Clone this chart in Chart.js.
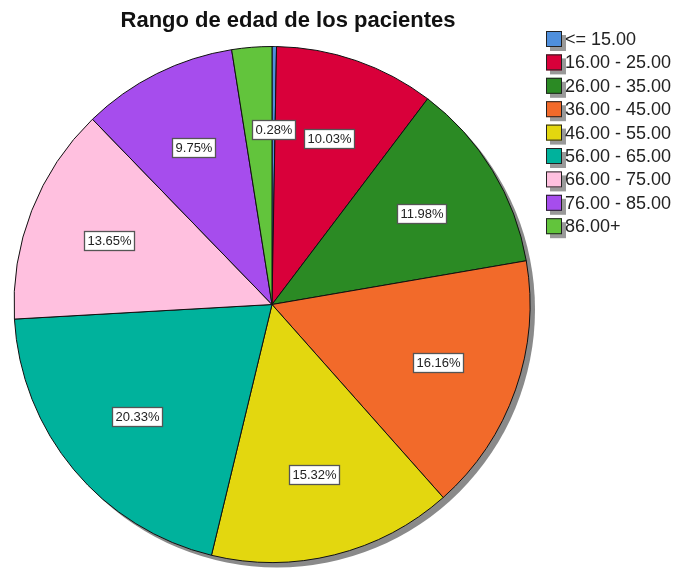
<!DOCTYPE html>
<html>
<head>
<meta charset="utf-8">
<script src="https://cdn.jsdelivr.net/npm/chart.js@4.4.1/dist/chart.umd.min.js"></script>
<style>
  html, body { margin: 0; padding: 0; background: #fff; }
  #wrap { width: 677px; height: 569px; position: relative; }
</style>
</head>
<body>
<div id="wrap"><canvas id="pie"></canvas></div>
<script>
// Age-range pie, SPSS style: percentage boxes, drop shadow, legend on the right.

const TITLE = "Rango de edad de los pacientes";
const categories = ["<= 15.00", "16.00 - 25.00", "26.00 - 35.00", "36.00 - 45.00", "46.00 - 55.00",
                    "56.00 - 65.00", "66.00 - 75.00", "76.00 - 85.00", "86.00+"];
const percents = [0.28, 10.03, 11.98, 16.16, 15.32, 20.33, 13.65, 9.75, 2.50];
// the 86+ slice has no label box in the original
const shownLabels = ["0.28%", "10.03%", "11.98%", "16.16%", "15.32%", "20.33%", "13.65%", "9.75%", null];
const colors = ["#4f8fdc", "#d9003a", "#2b8a24", "#f26a2a", "#e3d70f", "#00b29c", "#ffc0df", "#a64ded", "#62c43c"];

const font = "Arial, 'Liberation Sans', sans-serif";

const shadowPlugin = {
  id: "shadow",
  beforeDatasetsDraw(chart) {
    const arc = chart.getDatasetMeta(0).data[0];
    if (!arc) return;
    const { ctx } = chart;
    ctx.save();
    ctx.fillStyle = "#8a8a8a";
    ctx.beginPath();
    ctx.arc(arc.x + 5, arc.y + 5, arc.outerRadius, 0, Math.PI * 2);
    ctx.fill();
    ctx.restore();
  },
};

const decorPlugin = {
  id: "decor",
  afterDraw(chart) {
    const { ctx } = chart;
    ctx.save();

    // title
    ctx.fillStyle = "#111";
    ctx.font = `bold 22px ${font}`;
    ctx.textAlign = "center";
    ctx.textBaseline = "middle";
    ctx.fillText(TITLE, 288, 21);

    // percentage boxes
    ctx.font = `13px ${font}`;
    const meta = chart.getDatasetMeta(0);
    meta.data.forEach((arc, i) => {
      const text = shownLabels[i];
      if (!text) return;
      const mid = (arc.startAngle + arc.endAngle) / 2;
      const r = arc.outerRadius * 0.68;
      const x = arc.x + Math.cos(mid) * r;
      const y = arc.y + Math.sin(mid) * r;
      const w = Math.round(ctx.measureText(text).width + 6);
      const h = 19;
      const left = Math.round(x - w / 2), top = Math.round(y - h / 2);
      ctx.fillStyle = "#fff";
      ctx.fillRect(left, top, w, h);
      ctx.strokeStyle = "#555";
      ctx.lineWidth = 1.3;
      ctx.strokeRect(left + 0.5, top + 0.5, w, h);
      ctx.fillStyle = "#222";
      ctx.fillText(text, left + w / 2 + 0.5, top + h / 2 + 1);
    });

    // legend
    ctx.font = `18px ${font}`;
    ctx.textAlign = "left";
    categories.forEach((name, i) => {
      const bx = 546, by = 31 + i * 23.4, s = 16;
      ctx.fillStyle = "#999";
      ctx.fillRect(bx + 4, by + 4, s, s);
      ctx.fillStyle = colors[i];
      ctx.fillRect(bx, by, s, s);
      ctx.strokeStyle = "#222";
      ctx.lineWidth = 1;
      ctx.strokeRect(bx + 0.5, by + 0.5, s - 1, s - 1);
      ctx.fillStyle = "#222";
      ctx.fillText(name, 565, by + 9);
    });

    ctx.restore();
  },
};

new Chart(document.getElementById("pie"), {
  type: "pie",
  data: {
    labels: categories,
    datasets: [{
      data: percents,
      backgroundColor: colors,
      borderColor: "#111",
      borderWidth: 1,
      borderJoinStyle: "miter",
    }],
  },
  options: {
    responsive: true,
    maintainAspectRatio: false,
    animation: false,
    layout: { padding: { left: 13, top: 46, right: 146, bottom: 6 } },
    plugins: {
      legend: { display: false },
      title: { display: false },
      tooltip: { enabled: false },
    },
  },
  plugins: [shadowPlugin, decorPlugin],
});
</script>
</body>
</html>
